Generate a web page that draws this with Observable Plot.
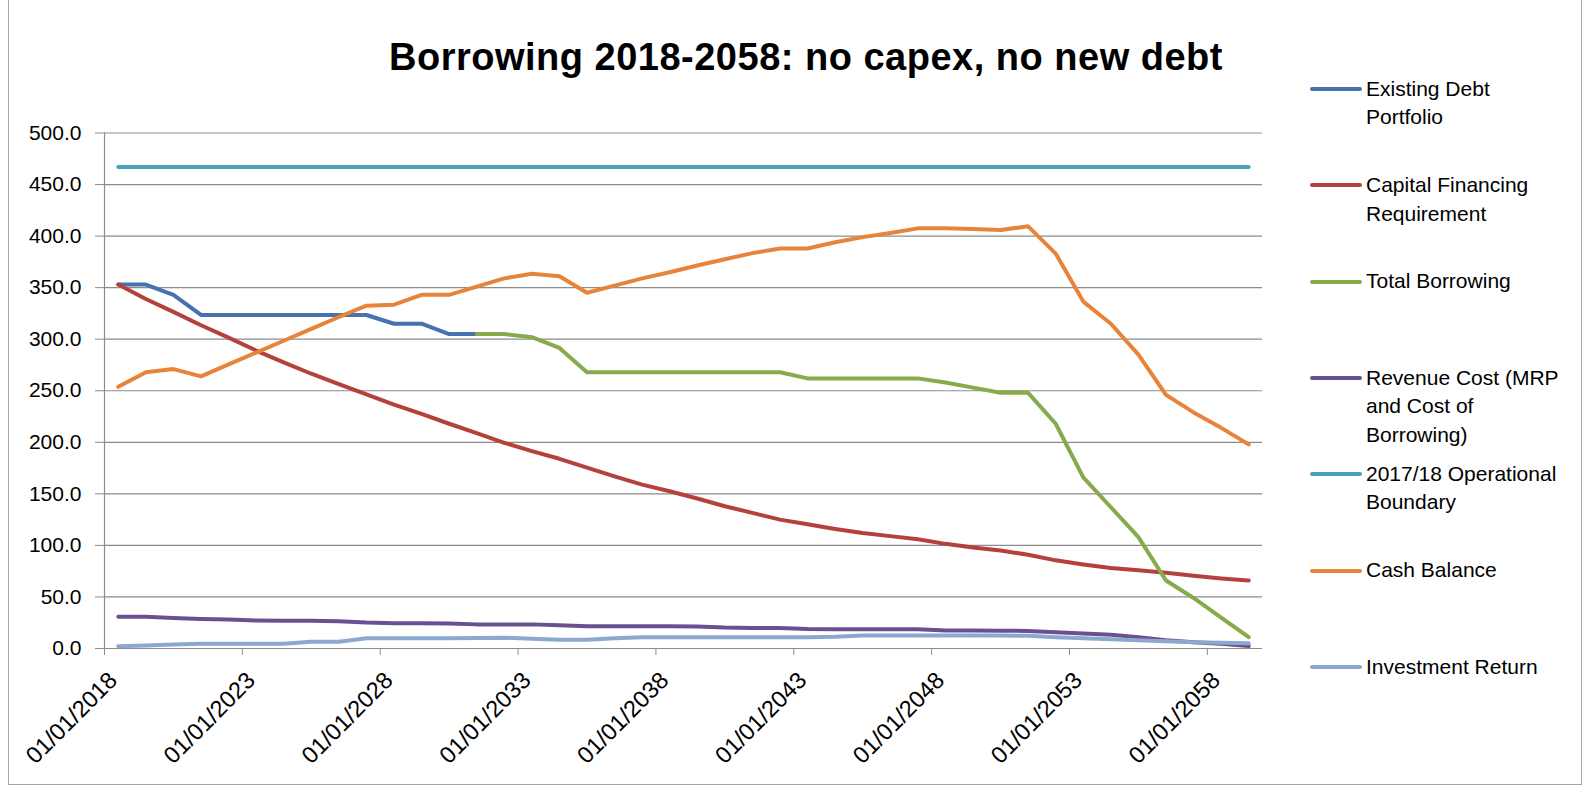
<!DOCTYPE html>
<html><head><meta charset="utf-8">
<script src="https://cdn.jsdelivr.net/npm/d3@7"></script>
<script src="https://cdn.jsdelivr.net/npm/@observablehq/plot@0.6"></script>
<style>
body{margin:0;background:#fff;font-family:"Liberation Sans",Arial,sans-serif;color:#000;}
#wrap{position:relative;width:1589px;height:791px;overflow:hidden;background:#fff;}
#frame{position:absolute;left:8px;top:-2px;width:1574px;height:787px;border:1px solid #a6a6a6;box-sizing:border-box;}
#title{position:absolute;left:0;width:1612px;top:36px;text-align:center;font-weight:bold;font-size:38px;letter-spacing:0.5px;white-space:nowrap;}
#plot{position:absolute;left:0;top:0;}
.leg{position:absolute;left:1366px;font-size:21px;line-height:28.5px;white-space:nowrap;}
.sw{position:absolute;left:1310px;width:52px;height:4px;border-radius:2px;}
</style></head><body><div id="wrap"><div id="frame"></div><div id="title">Borrowing 2018-2058: no capex, no new debt</div><div id="plot"></div></div>
<script>
// categories (01/01/yyyy), 42 points
const categories = ["2018","2019","2020","2021","2022","2023","2024","2025","2026","2027","2028","2029","2030","2031","2032","2033","2034","2035","2036","2037","2038","2039","2040","2041","2042","2043","2044","2045","2046","2047","2048","2049","2050","2051","2052","2053","2054","2055","2056","2057","2058","2059"];
const tickLabels = ["01/01/2018","01/01/2023","01/01/2028","01/01/2033","01/01/2038","01/01/2043","01/01/2048","01/01/2053","01/01/2058"];
const tickIndex = [0,5,10,15,20,25,30,35,40];
const yTicks = [0,50,100,150,200,250,300,350,400,450,500];

const existingDebt = [353,353,343,323.5,323.5,323.5,323.5,323.5,323.5,323.5,315,315,305,305,null,null,null,null,null,null,null,null,null,null,null,null,null,null,null,null,null,null,null,null,null,null,null,null,null,null,null,null];
const capitalFinancing = [353,339,326.5,313.5,301.5,289,277.5,266.5,256.5,246.5,236.5,227.5,218,209,199.5,191.5,184,175.5,167,159,152.5,145.5,138,131.5,125,120.5,116,112,109,106,101.5,98,95,91,85.5,81.5,78,76,73.5,70.5,68,66];
const totalBorrowing = [null,null,null,null,null,null,null,null,null,null,null,null,null,305,305,302,291.5,268,268,268,268,268,268,268,268,262,262,262,262,262,258,253,248,248,218,166,137,108,66,49,30,11];
const revenueCost = [30.7,30.7,29.5,28.7,28.1,27.2,26.8,26.8,26.5,25.2,24.5,24.5,24.2,23.4,23.4,23.4,22.5,21.6,21.6,21.6,21.6,21.4,20.3,20,20,19,18.7,18.7,18.7,18.7,17.5,17.4,17.3,17,15.8,14.5,13.3,11,8,6,4.5,2.3];
const operationalBoundary = [467,467,467,467,467,467,467,467,467,467,467,467,467,467,467,467,467,467,467,467,467,467,467,467,467,467,467,467,467,467,467,467,467,467,467,467,467,467,467,467,467,467];
const cashBalance = [253.8,268,271,264,275.5,287,298.5,310,321.5,332.5,333.5,343,343,351,359,363.5,361,345,352,359,365,371.5,377.5,383.5,388,388,394,399,403,407.5,407.5,407,406,409.5,383,336.5,315,285,246,229,214,198];
const investmentReturn = [2.3,2.9,3.9,4.5,4.5,4.5,4.5,6.5,6.5,10,10,10,10,10.2,10.5,9.5,8.5,8.5,10,11,11,11,11,11,11,11,11.5,12.6,12.6,12.6,12.6,12.6,12.6,12.3,11,10,9,8,7,6,5.5,5];

const seriesNames = ["Existing Debt Portfolio","Capital Financing Requirement","Total Borrowing","Revenue Cost (MRP and Cost of Borrowing)","2017/18 Operational Boundary","Cash Balance","Investment Return"];
const legendLines = [["Existing Debt","Portfolio"],["Capital Financing","Requirement"],["Total Borrowing"],["Revenue Cost (MRP","and Cost of","Borrowing)"],["2017/18 Operational","Boundary"],["Cash Balance"],["Investment Return"]];
const seriesColors = ["#4673AF","#B4413C","#86AA4C","#695091","#4BA0B9","#E8843A","#8CA8CE"];
const seriesValues = [existingDebt,capitalFinancing,totalBorrowing,revenueCost,operationalBoundary,cashBalance,investmentReturn];

const rowsFor = vals => vals.map((v,i)=>({i, v})).filter(d => d.v != null);

const marks = [
  Plot.ruleY(yTicks, {stroke:"#8c8c8c", strokeWidth:1.2}),
  Plot.ruleX([0], {y1:0, y2:500, stroke:"#8c8c8c", strokeWidth:1.2}),
  Plot.axisY({ticks: yTicks, tickFormat: d => d.toFixed(1), tickSize: 9, tickPadding: 14, fontSize: 21, stroke:"#8c8c8c", fill:"#000", label:null}),
  Plot.axisX({ticks: tickIndex, tickFormat: () => "", tickSize: 7, stroke:"#8c8c8c", label:null}),
  Plot.text(tickIndex, {x: d => d + 0.5, y: () => 0, text: (d,k) => tickLabels[k], rotate: -45, textAnchor: "end", lineAnchor: "middle", dx: -5, dy: 28, fontSize: 23.5, fill: "#000"})
];
seriesValues.forEach((vals, s) => {
  marks.push(Plot.line(rowsFor(vals), {x: d => d.i + 0.5, y: "v", stroke: seriesColors[s], strokeWidth: 4, strokeLinecap: "round", strokeLinejoin: "round"}));
});

const chart = Plot.plot({
  width: 1589, height: 791,
  marginLeft: 104, marginRight: 327, marginTop: 132.5, marginBottom: 143,
  x: {type: "linear", domain: [0, categories.length], axis: null},
  y: {domain: [0, 500], axis: null},
  style: {fontFamily: "Liberation Sans, Arial, sans-serif", fontSize: "21px", color: "#000", background: "transparent"},
  marks
});
document.getElementById("plot").appendChild(chart);

// legend
const wrap = document.getElementById("wrap");
legendLines.forEach((lines, s) => {
  const cy = 89 + s * 96.3;
  const sw = document.createElement("div");
  sw.className = "sw"; sw.style.top = (cy - 2) + "px"; sw.style.background = seriesColors[s];
  wrap.appendChild(sw);
  const t = document.createElement("div");
  t.className = "leg"; t.style.top = (cy - 14.25) + "px";
  t.innerHTML = lines.join("<br>");
  t.title = seriesNames[s];
  wrap.appendChild(t);
});
</script></body></html>
